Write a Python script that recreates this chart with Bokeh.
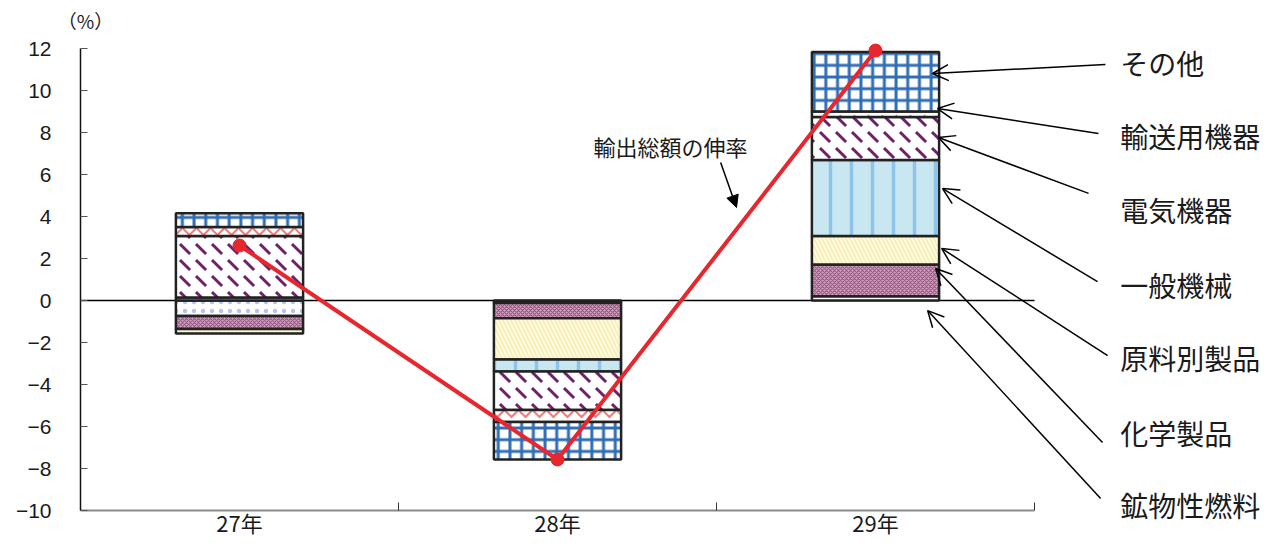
from bokeh.plotting import figure
from bokeh.models import Range1d, FixedTicker, Label, Arrow, NormalHead, OpenHead, ColumnDataSource
from bokeh.embed import file_html
from bokeh.resources import INLINE
from bokeh.core.properties import value

FONT = "Noto Sans CJK JP"

categories = ["27年", "28年", "29年"]
series_names = ["鉱物性燃料", "化学製品", "原料別製品", "一般機械", "電気機器", "輸送用機器", "その他"]
mineral_fuels = [-0.74, -0.12, 0.20]
chemicals = [-0.62, -0.72, 1.51]
manufactured = [-0.21, -1.97, 1.36]
general_machinery = [0.14, -0.57, 3.62]
electrical = [2.93, -1.83, 2.05]
transport = [0.43, -0.58, 0.26]
others = [0.66, -1.78, 2.83]
total_growth = [2.62, -7.57, 11.9]
y_ticks = list(range(-10, 13, 2))
line_label = "輸出総額の伸率"

series_values = [mineral_fuels, chemicals, manufactured, general_machinery,
                 electrical, transport, others]

styles = [
    dict(fill_color="white", hatch_pattern="dot", hatch_color="#b8c0ee", hatch_scale=9, hatch_weight=1),
    dict(fill_color="#cfa3bf", hatch_pattern="diagonal_cross", hatch_color="#9a5a84", hatch_scale=4, hatch_weight=1.2),
    dict(fill_color="#fffdf0", hatch_pattern="left_diagonal_line", hatch_color="#f8efb0", hatch_scale=8, hatch_weight=2),
    dict(fill_color="#c8e7f1", hatch_pattern="vertical_line", hatch_color="#8ec4ea", hatch_scale=21, hatch_weight=3.5),
    dict(fill_color="white", hatch_pattern="left_diagonal_dash", hatch_color="#6e2268", hatch_scale=16, hatch_weight=3),
    dict(fill_color="white", hatch_pattern="horizontal_wave", hatch_color="#f07c7c", hatch_scale=14, hatch_weight=2),
    dict(fill_color="white", hatch_pattern="cross", hatch_color="#2f6db5", hatch_scale=11.7, hatch_weight=3),
]

n = len(categories)
xs = [i + 0.5 for i in range(n)]

W, H = 1262, 542
X0, Y0, PX_X, PX_Y = 80, 300, 318, 21   # pixel position of data origin, pixels per unit

p = figure(width=W, height=H,
           x_range=Range1d(-X0 / PX_X, (W - X0) / PX_X),
           y_range=Range1d(-(H - Y0) / PX_Y, Y0 / PX_Y),
           output_backend="svg", toolbar_location=None,
           min_border=0)
p.outline_line_color = None
p.xgrid.visible = False
p.ygrid.visible = False
p.background_fill_color = "white"

# axes (placed inside the frame)
p.yaxis.fixed_location = 0
p.yaxis.bounds = (-10, 12)
p.yaxis.ticker = FixedTicker(ticks=y_ticks)
p.yaxis.major_label_overrides = {t: str(t).replace("-", "−") for t in y_ticks}
p.yaxis.major_tick_in = 7
p.yaxis.major_tick_out = 0
p.yaxis.minor_tick_line_color = None
p.yaxis.axis_line_color = "#111111"
p.yaxis.axis_line_width = 1.5
p.yaxis.major_tick_line_color = "#555555"
p.yaxis.major_label_standoff = 29
p.yaxis.major_label_text_font = "Liberation Sans"
p.yaxis.major_label_text_font_size = "21px"
p.yaxis.major_label_text_color = "#1a1a1a"

p.xaxis.fixed_location = -10
p.xaxis.bounds = (0, n)
p.xaxis.ticker = FixedTicker(ticks=xs, minor_ticks=list(range(1, n + 1)))
p.xaxis.major_label_overrides = {x: c for x, c in zip(xs, categories)}
p.xaxis.major_tick_in = 0
p.xaxis.major_tick_out = 0
p.xaxis.minor_tick_in = 8
p.xaxis.minor_tick_out = 0
p.xaxis.minor_tick_line_color = "#333333"
p.xaxis.axis_line_color = "#8a8a8a"
p.xaxis.axis_line_width = 2
p.xaxis.major_label_standoff = -5
p.xaxis.major_label_text_font = FONT
p.xaxis.major_label_text_font_size = "22px"
p.xaxis.major_label_text_color = "#1a1a1a"

# zero line
p.line(x=[0, n], y=[0, 0], line_color="black", line_width=1.5)

# stacked bars
pos = [0.0] * n
neg = [0.0] * n
for name, vals, st in zip(series_names, series_values, styles):
    bottoms, tops = [], []
    for i, v in enumerate(vals):
        if v >= 0:
            bottoms.append(pos[i]); tops.append(pos[i] + v); pos[i] += v
        else:
            tops.append(neg[i]); bottoms.append(neg[i] + v); neg[i] += v
    src = ColumnDataSource(dict(x=xs, bottom=bottoms, top=tops))
    p.vbar(x="x", bottom="bottom", top="top", width=0.4, source=src,
           line_color="#222222", line_width=2.5, **st)

# growth line
p.line(xs, total_growth, line_color="#e8262d", line_width=4)
p.scatter(xs, total_growth, size=13, fill_color="#e8262d", line_color="#e8262d")

# (%) label
p.add_layout(Label(x=(85 - X0) / PX_X, y=(Y0 - 20) / PX_Y, text="（%）",
                   text_align="center", text_baseline="middle",
                   text_font=FONT, text_font_size="19px", text_color="#1a1a1a"))

# growth line annotation
p.add_layout(Label(x=1.855, y=7.38, text=line_label, text_align="center", text_baseline="middle",
                   text_font=FONT, text_font_size="22px", text_color="#1a1a1a"))
p.add_layout(Arrow(end=NormalHead(size=12, fill_color="black", line_color="black"),
                   x_start=2.013, y_start=6.57, x_end=2.063, y_end=4.43,
                   line_color="black", line_width=1.5))

# legend labels with arrows (top to bottom)
label_names = series_names[::-1]
label_y = [11.33, 7.81, 4.29, 0.76, -2.76, -6.29, -9.76]
arrow_start = [(3.223, 11.24), (3.201, 7.95), (3.170, 5.10), (3.198, 0.90),
               (3.230, -2.62), (3.214, -6.76), (3.208, -9.43)]
arrow_end = [(2.679, 10.81), (2.695, 9.14), (2.698, 7.76), (2.711, 5.33),
             (2.708, 2.48), (2.689, 1.52), (2.664, -0.48)]
p.text(x=[3.270] * len(label_names), y=label_y, text=label_names,
       text_font=value(FONT), text_font_size="28px", text_color="#1a1a1a",
       text_align="left", text_baseline="middle")
for (xs0, ys0), (xe, ye) in zip(arrow_start, arrow_end):
    p.add_layout(Arrow(end=OpenHead(size=16, line_width=1.5, line_color="black"),
                       x_start=xs0, y_start=ys0, x_end=xe, y_end=ye,
                       line_color="black", line_width=1.5))

open("out.html", "w").write(file_html(p, INLINE))
